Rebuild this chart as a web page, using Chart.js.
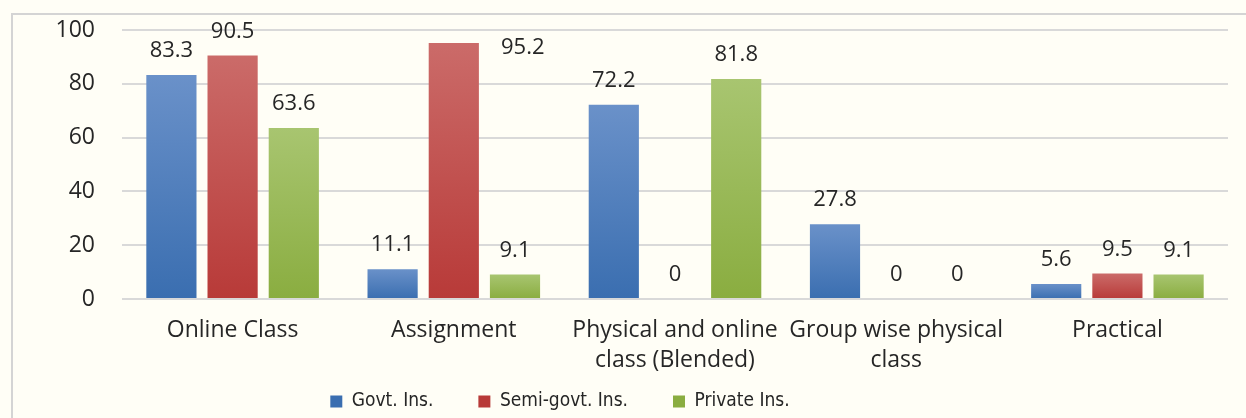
<!DOCTYPE html>
<html>
<head>
<meta charset="utf-8">
<script src="https://cdn.jsdelivr.net/npm/chart.js@4"></script>
<style>
  html, body { margin: 0; padding: 0; background: #fffef6; }
  #wrap { position: relative; width: 1246px; height: 418px; overflow: hidden; }
  #frame { position: absolute; left: 11px; top: 13px; width: 1260px; height: 430px;
           border: 2px solid #d4d4d4; box-sizing: border-box; }
  canvas { position: absolute; left: 0; top: 0; }
</style>
</head>
<body>
<div id="wrap">
  <div id="frame"></div>
  <canvas id="myChart" width="1246" height="418"></canvas>
</div>
<script>
// Data for the chart
const categories = ['Online Class', 'Assignment', ['Physical and online', 'class (Blended)'], ['Group wise physical', 'class'], 'Practical'];
const govtIns = [83.3, 11.1, 72.2, 27.8, 5.6];
const semiGovtIns = [90.5, 95.2, 0, 0, 9.5];
const privateIns = [63.6, 9.1, 81.8, 0, 9.1];
const yTicks = [0, 20, 40, 60, 80, 100];

// top / bottom colours of each bar gradient
const colors = {
    govt: ['#6a91c9', '#3a6eb0'],
    semi: ['#cb6b69', '#b83a38'],
    priv: ['#a8c570', '#8aad40']
};

function barGradient(pair) {
    return function(context) {
        const chart = context.chart;
        const y = chart.scales.y;
        if (!chart.chartArea || !y || context.raw === undefined) return pair[1];
        const top = y.getPixelForValue(context.raw);
        const base = y.getPixelForValue(0);
        if (!isFinite(top) || Math.abs(base - top) < 1) return pair[1];
        const g = chart.ctx.createLinearGradient(0, top, 0, base);
        g.addColorStop(0, pair[0]);
        g.addColorStop(1, pair[1]);
        return g;
    };
}

// label nudges for labels that were moved in the original (dataset-index)
const labelNudge = { '1-1': [69, 29] };

const valueLabels = {
    id: 'valueLabels',
    afterDatasetsDraw(chart) {
        const ctx = chart.ctx;
        ctx.save();
        ctx.font = '22px "Open Sans", sans-serif';
        ctx.fillStyle = '#262626';
        ctx.textAlign = 'center';
        ctx.textBaseline = 'middle';
        chart.data.datasets.forEach((ds, di) => {
            const meta = chart.getDatasetMeta(di);
            meta.data.forEach((bar, i) => {
                const n = labelNudge[di + '-' + i] || [0, 0];
                ctx.fillText(String(ds.data[i]), bar.x + n[0], bar.y - 24 + n[1]);
            });
        });
        ctx.restore();
    }
};

// move the legend a bit (it sits left of centre and higher in the original)
const legendShift = {
    id: 'legendShift',
    afterLayout(chart) {
        const lg = chart.legend;
        if (!lg) return;
        lg.left -= 54; lg.right -= 54;
        lg.top -= 32; lg.bottom -= 32;
    }
};

const ctx = document.getElementById('myChart').getContext('2d');
const chart = new Chart(ctx, {
    type: 'bar',
    data: {
        labels: categories,
        datasets: [
            { label: 'Govt. Ins.', data: govtIns, backgroundColor: barGradient(colors.govt) },
            { label: 'Semi-govt. Ins.', data: semiGovtIns, backgroundColor: barGradient(colors.semi) },
            { label: 'Private Ins.', data: privateIns, backgroundColor: barGradient(colors.priv) }
        ]
    },
    options: {
        responsive: false,
        animation: false,
        categoryPercentage: 0.83,
        barPercentage: 0.82,
        layout: { padding: { top: 30, right: 18, bottom: -35, left: 0 } },
        scales: {
            x: {
                grid: { display: false },
                border: { display: false },
                ticks: {
                    color: '#262626',
                    padding: 9,
                    maxRotation: 0,
                    autoSkip: false,
                    font: { family: '"Open Sans", sans-serif', size: 23, lineHeight: 1.3 }
                },
                afterFit: s => { s.height = 80; }
            },
            y: {
                min: 0,
                max: 100,
                afterBuildTicks: s => { s.ticks = yTicks.map(v => ({ value: v })); },
                grid: { color: '#d9d9d9', lineWidth: 2, drawTicks: false },
                border: { display: false },
                ticks: {
                    color: '#262626',
                    padding: 27,
                    font: { family: '"Open Sans", sans-serif', size: 23 }
                },
                afterFit: s => {
                    s.width = 122;
                    // tick padding would otherwise push the plot top down
                    s.paddingTop = 0;
                    s.paddingBottom = 0;
                }
            }
        },
        plugins: {
            legend: {
                position: 'bottom',
                labels: {
                    boxWidth: 12,
                    boxHeight: 12,
                    padding: 45,
                    color: '#262626',
                    font: { family: '"DejaVu Sans Condensed", "Open Sans", sans-serif', size: 19 }
                }
            },
            tooltip: { enabled: false }
        }
    },
    plugins: [valueLabels, legendShift]
});
</script>
</body>
</html>
